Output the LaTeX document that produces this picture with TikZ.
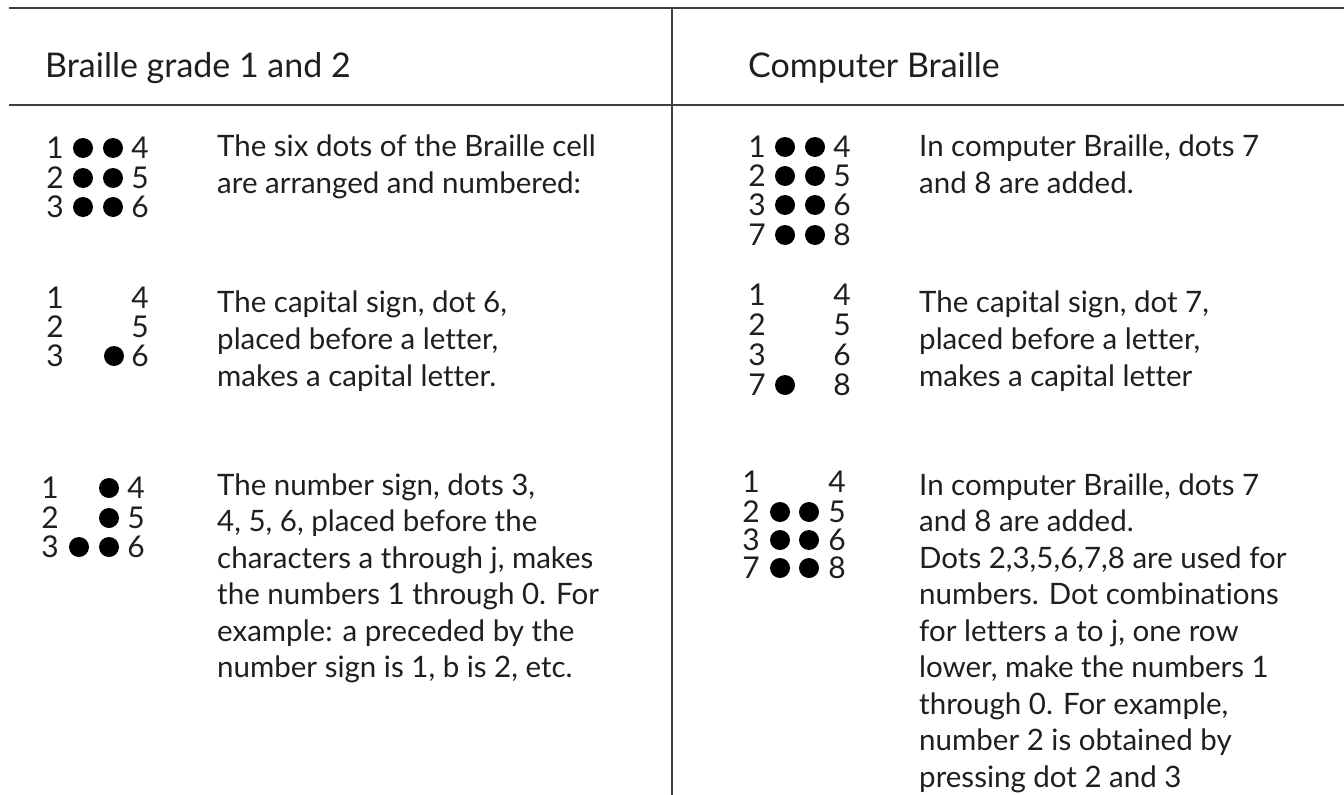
\documentclass[tikz,border=0pt]{standalone}
\usepackage{fontspec}
\setmainfont{Lato}[Ligatures=NoCommon]
\usetikzlibrary{positioning}
\definecolor{inkgray}{rgb}{0.12,0.12,0.12}
\definecolor{rulegray}{rgb}{0.25,0.25,0.25}
\tikzset{
  head/.style={font=\fontsize{34}{40}\selectfont, anchor=base west, inner sep=0pt, text=inkgray},
  body/.style={font=\fontsize{29.5}{36}\selectfont, anchor=base west, inner sep=0pt, text=inkgray},
  num/.style={font=\fontsize{30}{36}\selectfont, inner sep=0pt, text=inkgray},
  dot/.style={fill=black, circle, inner sep=0pt, minimum size=20pt},
  rule/.style={rulegray, line width=2.5pt}
}
\begin{document}
\begin{tikzpicture}[x=1pt, y=-1pt]
        \useasboundingbox (0,0) rectangle (1344,795);
        % Table rules
        \draw[rule] (9,8) -- (1344,8);
        \draw[rule] (9,105) -- (1344,105);
        \draw[rule] (672,8) -- (672,795);

        % Headings
        \node[head] (hleft) at (45,77) {Braille grade 1 and 2};
        \node[head] (hright) at (748,77) {Computer Braille};

        % Six dot cell
        \foreach \l/\r/\y in {1/4/148, 2/5/178, 3/6/207} {
          \node[num] (a\l) at (55,\y) {\l};
          \node[num] (a\r) at (140,\y) {\r};
          \node[dot] (ad\l) at (83,\y) {};
          \node[dot] (ad\r) at (113,\y) {};
        }
        \foreach \line [count=\i] in {{The six dots of the Braille cell}, {are arranged and numbered:}}
          \node[body] (at\i) at (217,{156+37*(\i-1)}) {\line};

        % Capital sign, dot 6
        \foreach \l/\r/\y in {1/4/298, 2/5/327, 3/6/356} {
          \node[num] (b\l) at (55,\y) {\l};
          \node[num] (b\r) at (140,\y) {\r};
        }
        \node[dot] (bd6) at (114,356) {};
        \foreach \line [count=\i] in {{The capital sign, dot 6,}, {placed before a letter,}, {makes a capital letter.}}
          \node[body] (bt\i) at (217,{312+37*(\i-1)}) {\line};

        % Number sign
        \foreach \l/\r/\y in {1/4/488, 2/5/518, 3/6/547} {
          \node[num] (c\l) at (50,\y) {\l};
          \node[num] (c\r) at (136,\y) {\r};
          \node[dot] (cd\r) at (109,\y) {};
        }
        \node[dot] (cd3) at (79,547) {};
        \foreach \line [count=\i] in {{The number sign, dots 3,}, {4, 5, 6, placed before the}, {characters a through j, makes}, {the numbers 1 through 0. For}, {example: a preceded by the}, {number sign is 1, b is 2, etc.}}
          \node[body] (ct\i) at (217,{495+36.5*(\i-1)}) {\line};

        % Eight dot cell
        \foreach \l/\r/\y in {1/4/147, 2/5/176, 3/6/205, 7/8/235} {
          \node[num] (d\l) at (757,\y) {\l};
          \node[num] (d\r) at (842,\y) {\r};
          \node[dot] (dd\l) at (785,\y) {};
          \node[dot] (dd\r) at (815,\y) {};
        }
        \foreach \line [count=\i] in {{In computer Braille, dots 7}, {and 8 are added.}}
          \node[body] (dt\i) at (919,{156+37*(\i-1)}) {\line};

        % Capital sign, dot 7
        \foreach \l/\r/\y in {1/4/295, 2/5/325, 3/6/355, 7/8/385} {
          \node[num] (e\l) at (757,\y) {\l};
          \node[num] (e\r) at (842,\y) {\r};
        }
        \node[dot] (ed7) at (785,385) {};
        \foreach \line [count=\i] in {{The capital sign, dot 7,}, {placed before a letter,}, {makes a capital letter}}
          \node[body] (et\i) at (919,{312+37*(\i-1)}) {\line};

        % Numbers in computer Braille
        \foreach \l/\r/\y in {1/4/482, 2/5/512, 3/6/540, 7/8/568} {
          \node[num] (f\l) at (751,\y) {\l};
          \node[num] (f\r) at (837,\y) {\r};
        }
        \foreach \y in {512, 540, 568} {
          \node[dot] at (780,\y) {};
          \node[dot] at (809,\y) {};
        }
        \foreach \line [count=\i] in {{In computer Braille, dots 7}, {and 8 are added.}, {Dots 2,3,5,6,7,8 are used for}, {numbers. Dot combinations}, {for letters a to j, one row}, {lower, make the numbers 1}, {through 0. For example,}, {number 2 is obtained by}, {pressing dot 2 and 3}}
          \node[body] (ft\i) at (919,{495+36.5*(\i-1)}) {\line};
\end{tikzpicture}
\end{document}
